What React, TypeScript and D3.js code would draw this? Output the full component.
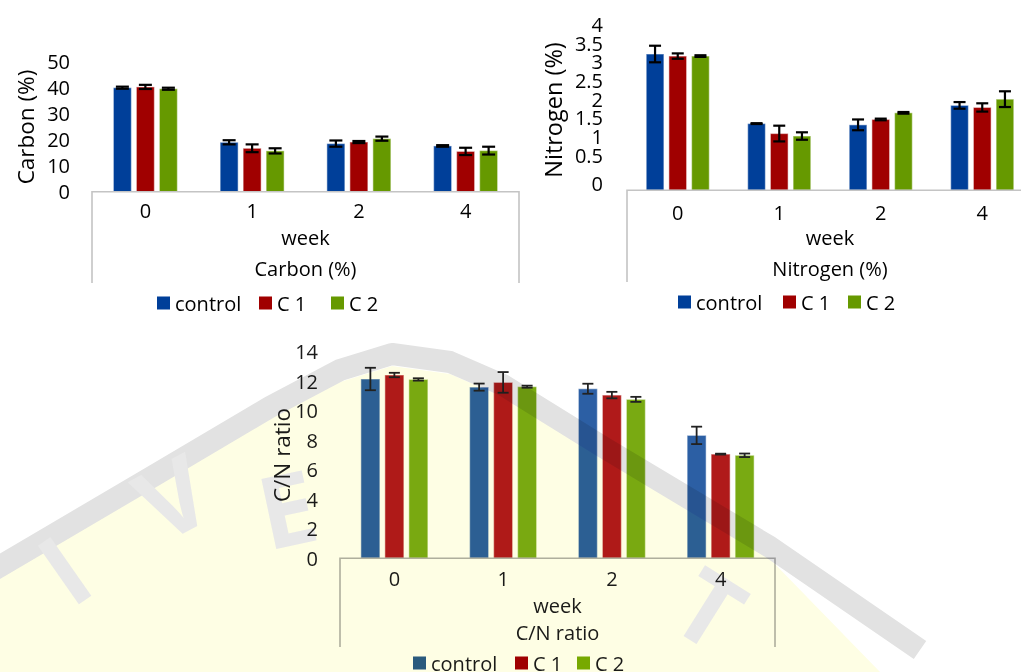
import React from 'react';
import * as d3 from 'd3';

const weeks = ['0', '1', '2', '4'];
const seriesNames = ['control', 'C 1', 'C 2'];

// Carbon (%)
const carbonControl = [40.0, 19.0, 18.5, 17.6];
const carbonC1 = [40.3, 16.7, 19.1, 15.5];
const carbonC2 = [39.6, 15.7, 20.4, 15.8];
const carbonControlErr = [0.4, 0.8, 1.2, 0.3];
const carbonC1Err = [0.8, 1.5, 0.4, 1.4];
const carbonC2Err = [0.4, 1.0, 0.8, 1.5];
const carbonTicks = [0, 10, 20, 30, 40, 50];

// Nitrogen (%)
const nitrogenControl = [3.29, 1.61, 1.58, 2.05];
const nitrogenC1 = [3.24, 1.37, 1.71, 2.0];
const nitrogenC2 = [3.24, 1.31, 1.87, 2.2];
const nitrogenControlErr = [0.2, 0.01, 0.13, 0.08];
const nitrogenC1Err = [0.065, 0.19, 0.02, 0.1];
const nitrogenC2Err = [0.02, 0.09, 0.02, 0.19];
const nitrogenTicks = [0, 0.5, 1, 1.5, 2, 2.5, 3, 3.5, 4];

// C/N ratio
const cnControl = [12.15, 11.6, 11.49, 8.33];
const cnC1 = [12.42, 11.92, 11.06, 7.06];
const cnC2 = [12.12, 11.63, 10.77, 6.98];
const cnControlErr = [0.76, 0.24, 0.34, 0.59];
const cnC1Err = [0.15, 0.7, 0.22, 0.03];
const cnC2Err = [0.08, 0.07, 0.17, 0.12];
const cnTicks = [0, 2, 4, 6, 8, 10, 12, 14];

const FONT = '"Open Sans", "Liberation Sans", sans-serif';

function Panel(p: any) {
  const x0 = d3.scaleBand().domain(weeks).range([p.left, p.right]);
  const W = x0.bandwidth();
  const step = p.barW + p.gap;
  const x1 = d3
    .scaleBand()
    .domain(seriesNames)
    .range([0, W])
    .paddingInner(p.gap / step)
    .paddingOuter((W / step - 3 + p.gap / step) / 2);
  const y = d3.scaleLinear().domain([0, p.yMax]).range([p.y0, p.yTop]);
  const labelY = p.labelY ? (v: number) => p.labelY(v, y) : (v: number) => y(v);
  const cap = p.capW / 2;

  return (
    <g fontFamily={FONT} fill={p.textColor}>
      {/* bars */}
      {weeks.map((wk, i) => (
        <g key={wk} transform={`translate(${x0(wk)},0)`}>
          {seriesNames.map((s, j) => {
            const v = p.values[j][i];
            const e = p.errors[j][i];
            const cx = (x1(s) as number) + x1.bandwidth() / 2;
            return (
              <g key={s}>
                <rect
                  x={x1(s)}
                  y={y(v)}
                  width={x1.bandwidth()}
                  height={y(0) - y(v)}
                  fill={p.colors[j]}
                  stroke="#ffffff"
                  strokeOpacity={0.45}
                  strokeWidth={1.2}
                />
                <g stroke={p.errColor} strokeWidth={p.errWidth} fill="none">
                  <line x1={cx} x2={cx} y1={y(v + e)} y2={y(v - e)} />
                  <line x1={cx - cap} x2={cx + cap} y1={y(v + e)} y2={y(v + e)} />
                  <line x1={cx - cap} x2={cx + cap} y1={y(v - e)} y2={y(v - e)} />
                </g>
              </g>
            );
          })}
        </g>
      ))}

      {/* category box */}
      <path
        d={`M${p.left},${p.boxBottom}V${y(0)}H${p.right}V${p.boxBottom}`}
        fill="none"
        stroke={p.boxColor}
        strokeWidth={1.6}
      />

      {/* y tick labels */}
      {p.ticks.map((t: number) => (
        <text
          key={t}
          x={p.labelRight}
          y={labelY(t)}
          textAnchor="end"
          dominantBaseline="central"
          fontSize={20}
        >
          {String(t)}
        </text>
      ))}

      {/* x tick labels */}
      {weeks.map((wk) => (
        <text
          key={wk}
          x={(x0(wk) as number) + W / 2}
          y={p.tickLabelY}
          textAnchor="middle"
          dominantBaseline="central"
          fontSize={20}
        >
          {wk}
        </text>
      ))}

      <text x={(p.left + p.right) / 2} y={p.weekY} textAnchor="middle" dominantBaseline="central" fontSize={20}>
        week
      </text>
      <text x={(p.left + p.right) / 2} y={p.titleY} textAnchor="middle" dominantBaseline="central" fontSize={20}>
        {p.title}
      </text>

      <text
        transform={`translate(${p.yTitleX},${p.yTitleY}) rotate(-90)`}
        textAnchor="middle"
        dominantBaseline="central"
        fontSize={p.yTitleSize}
      >
        {p.yTitle}
      </text>

      {/* legend */}
      {seriesNames.map((s, j) => (
        <g key={s} transform={`translate(${p.legendX + p.legendOffsets[j]},${p.legendY})`}>
          <rect x={0} y={-6.5} width={13} height={13} fill={p.legendColors[j]} />
          <text x={18} y={0} dominantBaseline="central" fontSize={20}>
            {s}
          </text>
        </g>
      ))}
    </g>
  );
}

// faint university watermark that sits over the lower chart
function Watermark() {
  const pts: [number, number][] = [
    [-20, 578],
    [150, 478],
    [270, 407],
    [340, 370],
    [392, 354],
    [450, 362],
    [503, 385],
    [603, 447],
    [770, 547],
    [920, 650],
  ];
  const band = d3.line()(pts);
  const fill = d3.line()([
    ...pts.slice(0, 9).map(([x, y]) => [x, y + 12] as [number, number]),
    [880, 672],
    [-20, 672],
  ]);
  const letters = [
    { ch: 'I', x: 85, y: 600, r: -35 },
    { ch: 'V', x: 190, y: 530, r: -28 },
    { ch: 'E', x: 295, y: 545, r: -12 },
    { ch: 'T', x: 690, y: 640, r: 32 },
  ];
  return (
    <g style={{ mixBlendMode: 'multiply' }} pointerEvents="none">
      <path d={fill + 'Z'} fill="#fefee4" />
      <path d={band as string} fill="none" stroke="#e2e2e2" strokeWidth={22} strokeLinejoin="round" />
      {letters.map((l, i) => (
        <text
          key={i}
          transform={`translate(${l.x},${l.y}) rotate(${l.r})`}
          textAnchor="middle"
          fontFamily={FONT}
          fontWeight="bold"
          fontSize={100}
          fill="#e8e8e8"
        >
          {l.ch}
        </text>
      ))}
    </g>
  );
}

export default function App() {
  const darkColors = ['#003f99', '#a00000', '#669900'];
  const cnColors = ['#2c5fa4', '#b01a1a', '#79aa12'];

  // nitrogen axis labels were squeezed upward by the original chart
  const nitrogenLabelY = (v: number, y: any) => (v === 0 ? y(0) - 7 : y(4) + (y(v) - y(4)) * 0.9);

  return (
    <svg width={1021} height={672} style={{ position: 'absolute', left: 0, top: 0, background: '#fff' }}>
      <rect width={1021} height={672} fill="#fff" />
      <Panel
        left={92}
        right={519}
        y0={191.7}
        yTop={61.7}
        yMax={50}
        ticks={carbonTicks}
        values={[carbonControl, carbonC1, carbonC2]}
        errors={[carbonControlErr, carbonC1Err, carbonC2Err]}
        colors={darkColors}
        legendColors={darkColors}
        barW={18}
        gap={5}
        capW={13}
        errColor="#000"
        errWidth={2.2}
        boxColor="#c4c4c4"
        textColor="#000"
        labelRight={70}
        tickLabelY={210}
        weekY={237}
        title="Carbon (%)"
        titleY={268}
        boxBottom={283}
        yTitle="Carbon (%)"
        yTitleX={25}
        yTitleY={127}
        yTitleSize={22.5}
        legendX={157}
        legendOffsets={[0, 102, 174]}
        legendY={303}
      />
      <Panel
        left={627}
        right={1033}
        y0={190.3}
        yTop={24.6}
        yMax={4}
        ticks={nitrogenTicks}
        labelY={nitrogenLabelY}
        values={[nitrogenControl, nitrogenC1, nitrogenC2]}
        errors={[nitrogenControlErr, nitrogenC1Err, nitrogenC2Err]}
        colors={darkColors}
        legendColors={darkColors}
        barW={17.7}
        gap={5}
        capW={12}
        errColor="#000"
        errWidth={2.2}
        boxColor="#c4c4c4"
        textColor="#000"
        labelRight={603}
        tickLabelY={212}
        weekY={237}
        title="Nitrogen (%)"
        titleY={268}
        boxBottom={282}
        yTitle="Nitrogen (%)"
        yTitleX={553}
        yTitleY={110}
        yTitleSize={23.5}
        legendX={678}
        legendOffsets={[0, 105, 170]}
        legendY={302}
      />
      <Panel
        left={340}
        right={775}
        y0={558.3}
        yTop={351.7}
        yMax={14}
        ticks={cnTicks}
        values={[cnControl, cnC1, cnC2]}
        errors={[cnControlErr, cnC1Err, cnC2Err]}
        colors={cnColors}
        legendColors={['#2a5a8c', '#a00000', '#77aa00']}
        barW={19}
        gap={5}
        capW={11}
        errColor="#222"
        errWidth={1.8}
        boxColor="#b0b0b0"
        textColor="#1a1a1a"
        labelRight={318}
        tickLabelY={578}
        weekY={605}
        title="C/N ratio"
        titleY={632}
        boxBottom={647}
        yTitle="C/N ratio"
        yTitleX={281}
        yTitleY={455}
        yTitleSize={22.5}
        legendX={413}
        legendOffsets={[0, 102, 164]}
        legendY={663}
      />
      <Watermark />
    </svg>
  );
}
